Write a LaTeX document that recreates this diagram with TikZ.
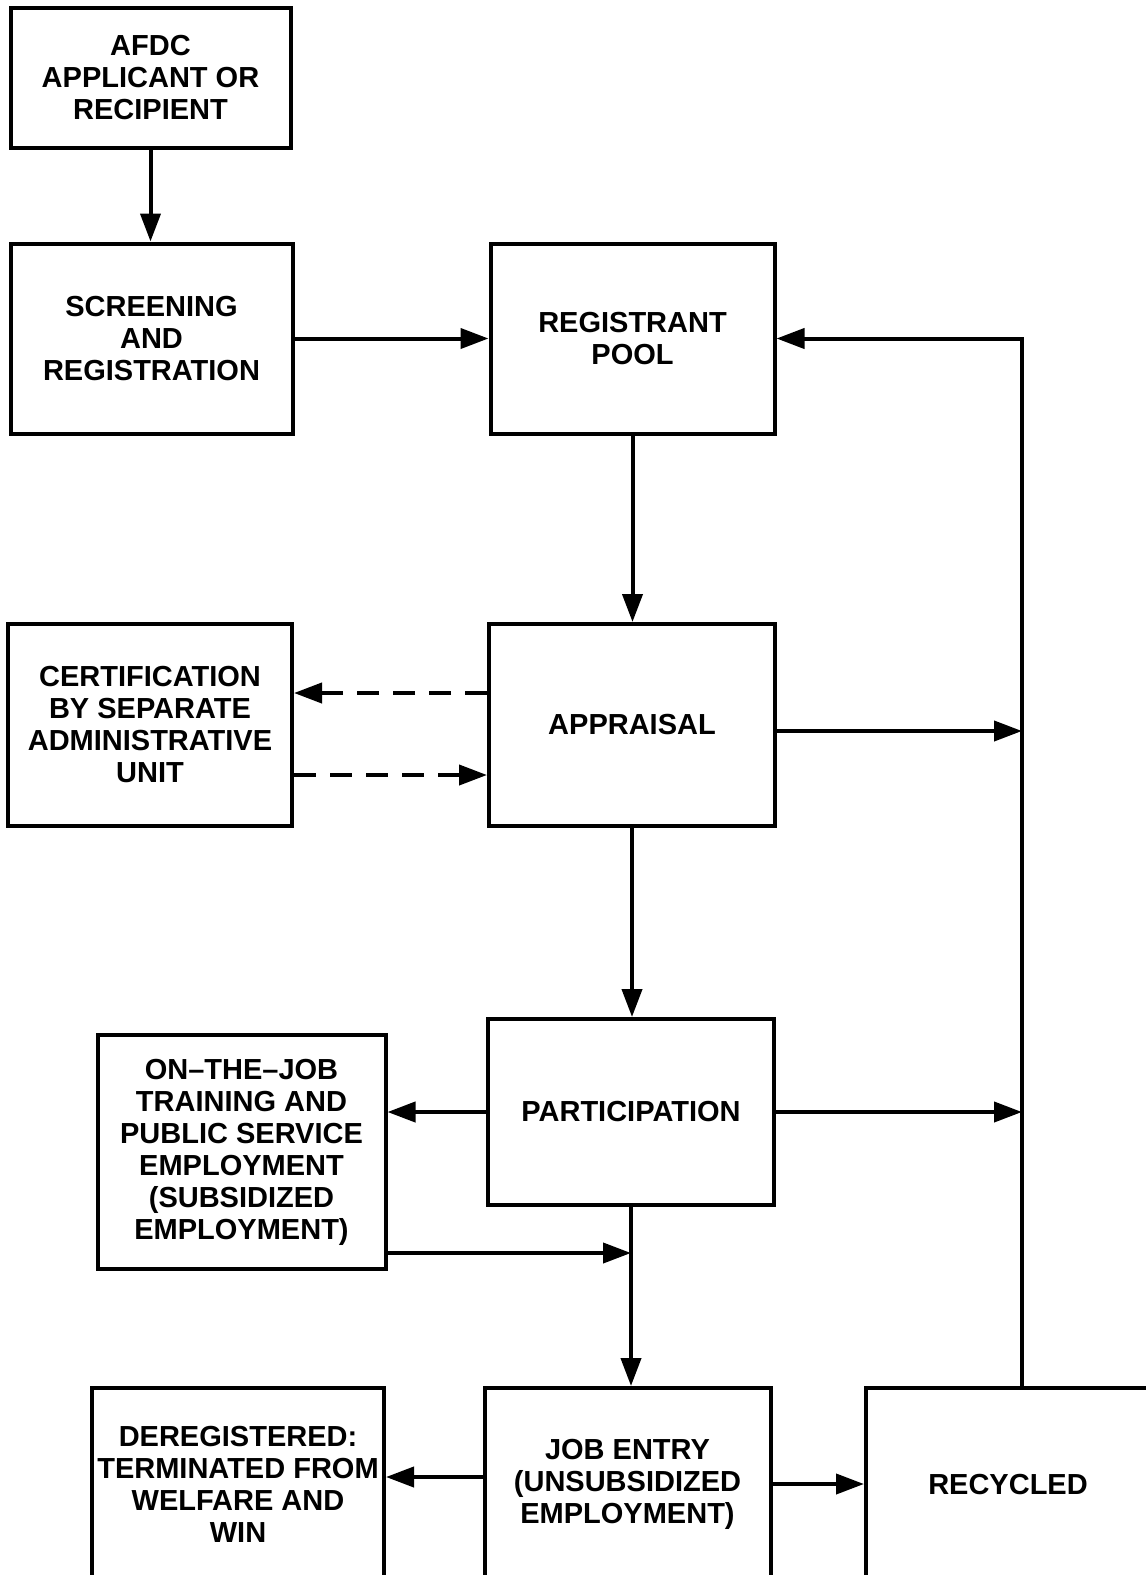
\documentclass[tikz,border=0pt]{standalone}
\usepackage{fontspec}
\setmainfont{Liberation Sans}
\usetikzlibrary{arrows.meta, positioning}
\tikzset{
  winbox/.style={draw, line width=2pt, minimum width=#1, align=center,
      font=\fontsize{14.5}{16}\selectfont\bfseries, inner sep=2pt},
  winbox/.default=142pt,
  flow/.style={-{Triangle[length=14pt,width=10pt]}, line width=2pt},
  dflow/.style={flow, dash pattern=on 11pt off 7pt},
}

\begin{document}
\begin{tikzpicture}[x=0.5pt, y=-0.5pt]
  \useasboundingbox (0,0) rectangle (1146,1575);
  % left column
  \node[winbox=140pt, minimum height=70pt] (afdc) at (150.5,78) {AFDC\\APPLICANT OR\\RECIPIENT};
  \node[winbox=141pt, minimum height=95pt] (screen) at (151.5,338.5) {SCREENING\\AND\\REGISTRATION};
  \node[winbox=142pt, minimum height=101pt] (cert) at (150,725) {CERTIFICATION\\BY SEPARATE\\ADMINISTRATIVE\\UNIT};
  \node[winbox=144pt, minimum height=117pt] (ojt) at (241.5,1152) {ON--THE--JOB\\TRAINING AND\\PUBLIC SERVICE\\EMPLOYMENT\\(SUBSIDIZED\\EMPLOYMENT)};
  \node[winbox=146pt, minimum height=96pt] (dereg) at (238,1484) {DEREGISTERED:\\TERMINATED FROM\\WELFARE AND\\WIN};
  % middle column
  \node[winbox=142pt, minimum height=95pt] (pool) at (632.5,338.5) {REGISTRANT\\POOL};
  \node[winbox=143pt, minimum height=101pt] (appr) at (632,725) {APPRAISAL};
  \node[winbox=143pt, minimum height=93pt] (part) at (631,1112) {PARTICIPATION};
  \node[winbox=143pt, minimum height=96pt] (job) at (627.5,1484) {JOB ENTRY\\(UNSUBSIDIZED\\EMPLOYMENT)};
  \node[winbox=142pt, minimum height=96pt] (recyc) at (1008,1484) {RECYCLED};
  \coordinate (bend) at (1022,340);
  \coordinate (merge) at (631,1253);

  \draw[flow] (afdc.south) -- (afdc.south |- screen.north);
  \draw[flow] (screen) -- (pool);
  \draw[flow] (pool.south) -- (pool.south |- appr.north);
  \draw[dflow] ([yshift=16pt]appr.west) -- ([yshift=16pt]appr.west -| cert.east);
  \draw[dflow] ([yshift=-25pt]cert.east) -- ([yshift=-25pt]cert.east -| appr.west);
  \draw[flow] (appr.south) -- (appr.south |- part.north);
  \draw[flow] (part.west) -- (part.west -| ojt.east);
  \draw[flow] (part.south) -- (part.south |- job.north);
  \draw[flow] (ojt.east |- merge) -- (merge);
  \draw[flow] ([yshift=3.5pt]job.west) -- ([yshift=3.5pt]job.west -| dereg.east);
  \draw[flow] (job.east) -- (job.east -| recyc.west);
  % loop back to the pool
  \draw[flow] (recyc.north -| bend) |- (pool.east);
  \draw[flow] ([yshift=-3pt]appr.east) -- ([yshift=-3pt]appr.east -| bend);
  \draw[flow] (part.east) -- (part.east -| bend);
\end{tikzpicture}
\end{document}
